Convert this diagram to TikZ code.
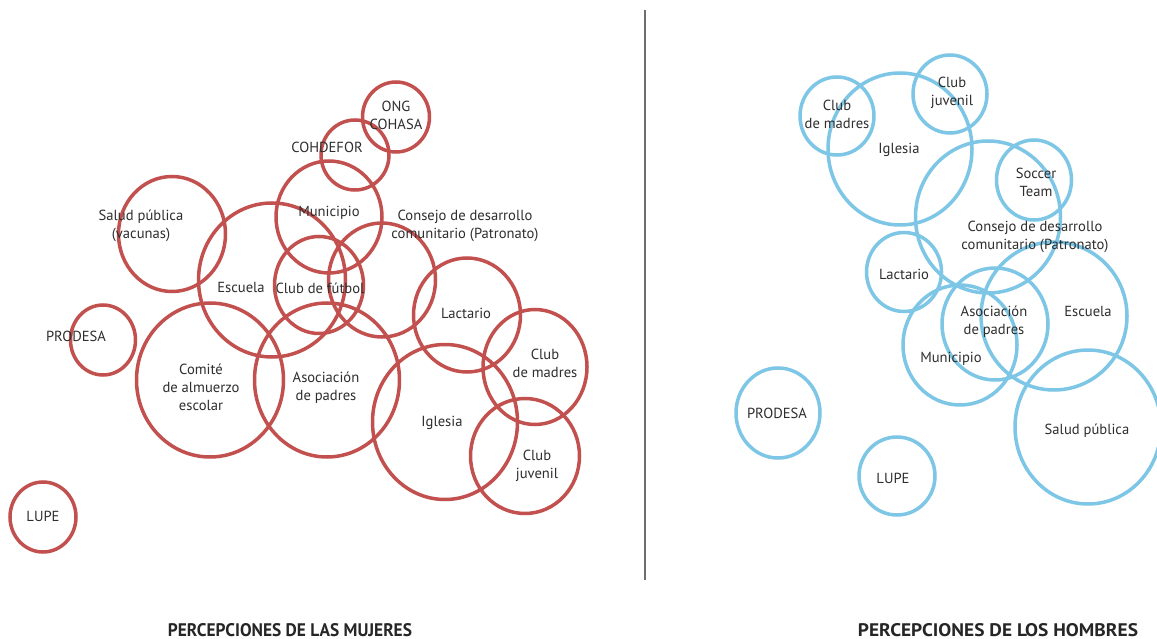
\documentclass[tikz,border=0pt]{standalone}
\usepackage{fontspec}
\setmainfont{PT Sans}
\usetikzlibrary{shapes.geometric}
\definecolor{redc}{HTML}{C2504E}
\definecolor{bluec}{HTML}{7DC6E5}
\definecolor{txtc}{HTML}{2E2E2E}
\definecolor{divc}{HTML}{6E6E6E}
\begin{document}
\begin{tikzpicture}[x=1pt,y=-1pt,
  rcirc/.style={draw=redc,line width=3.5pt,ellipse,inner sep=0pt},
  bcirc/.style={draw=bluec,line width=3.5pt,ellipse,inner sep=0pt},
  lbl/.style={text=txtc,font=\fontsize{14.6}{18}\selectfont,align=center,inner sep=0pt},
  ttl/.style={text=black!85,inner sep=0pt,anchor=base}]
\useasboundingbox (0,0) rectangle (1157,639);
\fill[white] (0,0) rectangle (1157,639);
% divider
\coordinate (dtop) at (645,10);
\coordinate (dbot) at (645,580);
\draw[divc,line width=1.6pt] (dtop) -- (dbot);

% ---------------- Women (red) ----------------
\node[rcirc,minimum width=67pt,minimum height=70pt] (wONG) at (396,117) {};
\node[rcirc,minimum width=68pt,minimum height=70pt] (wCOH) at (355,155) {};
\node[rcirc,minimum width=106pt,minimum height=112pt] (wMun) at (329,217) {};
\node[rcirc,minimum width=107pt,minimum height=115pt] (wSal) at (172,234) {};
\node[rcirc,minimum width=147pt,minimum height=154pt] (wEsc) at (272,280) {};
\node[rcirc,minimum width=89pt,minimum height=97pt] (wFut) at (319,285) {};
\node[rcirc,minimum width=107pt,minimum height=114pt] (wCon) at (382,280) {};
\node[rcirc,minimum width=107pt,minimum height=114pt] (wLac) at (467,315) {};
\node[rcirc,minimum width=65pt,minimum height=70pt] (wPRO) at (103,340) {};
\node[rcirc,minimum width=147pt,minimum height=154pt] (wCom) at (210,380) {};
\node[rcirc,minimum width=145pt,minimum height=154pt] (wAso) at (327,380) {};
\node[rcirc,minimum width=145pt,minimum height=155pt] (wIgl) at (445,422) {};
\node[rcirc,minimum width=104pt,minimum height=115pt] (wMad) at (535,367) {};
\node[rcirc,minimum width=109pt,minimum height=115pt] (wJuv) at (525,456) {};
\node[rcirc,minimum width=66pt,minimum height=70pt] (wLUP) at (43,517) {};

\node[lbl] (lwONG) at (396,115) {ONG\\COHASA};
\node[lbl] (lwCOH) at (327,147) {COHDEFOR};
\node[lbl] (lwMun) at (329,213) {Municipio};
\node[lbl] (lwSal) at (141,226) {Salud pública\\(vacunas)};
\node[lbl] (lwCon) at (465,226) {Consejo de desarrollo\\comunitario (Patronato)};
\node[lbl] (lwEsc) at (241,287) {Escuela};
\node[lbl] (lwFut) at (320,288) {Club de fútbol};
\node[lbl] (lwLac) at (466,313) {Lactario};
\node[lbl] (lwPRO) at (76,336) {PRODESA};
\node[lbl] (lwCom) at (201,387) {Comité\\de almuerzo\\escolar};
\node[lbl] (lwAso) at (326,388) {Asociación\\de padres};
\node[lbl] (lwIgl) at (442,423) {Iglesia};
\node[lbl] (lwMad) at (545,363) {Club\\de madres};
\node[lbl] (lwJuv) at (537,466) {Club\\juvenil};
\node[lbl] (lwLUP) at (43,516) {LUPE};

% ---------------- Men (blue) ----------------
\node[bcirc,minimum width=74pt,minimum height=78pt] (mMad) at (837,116) {};
\node[bcirc,minimum width=144pt,minimum height=152pt] (mIgl) at (900,149) {};
\node[bcirc,minimum width=74pt,minimum height=78pt] (mJuv) at (950,94) {};
\node[bcirc,minimum width=145pt,minimum height=152pt] (mCon) at (988,217) {};
\node[bcirc,minimum width=75pt,minimum height=80pt] (mSoc) at (1034,180) {};
\node[bcirc,minimum width=75pt,minimum height=79pt] (mLac) at (904,272) {};
\node[bcirc,minimum width=146pt,minimum height=148pt] (mEsc) at (1054,316) {};
\node[bcirc,minimum width=106pt,minimum height=112pt] (mAso) at (995,324) {};
\node[bcirc,minimum width=114pt,minimum height=120pt] (mMun) at (960,345) {};
\node[bcirc,minimum width=84pt,minimum height=90pt] (mPRO) at (778,413) {};
\node[bcirc,minimum width=76pt,minimum height=78pt] (mLUP) at (897,476) {};
\node[bcirc,minimum width=146pt,minimum height=154pt] (mSal) at (1088,427) {};

\node[lbl] (lmMad) at (837,114) {Club\\de madres};
\node[lbl] (lmJuv) at (952,93) {Club\\juvenil};
\node[lbl] (lmIgl) at (899,150) {Iglesia};
\node[lbl] (lmSoc) at (1036,182) {Soccer\\Team};
\node[lbl] (lmCon) at (1035,237) {Consejo de desarrollo\\comunitario (Patronato)};
\node[lbl] (lmLac) at (904,274) {Lactario};
\node[lbl] (lmEsc) at (1088,311) {Escuela};
\node[lbl] (lmAso) at (994,322) {Asociación\\de padres};
\node[lbl] (lmMun) at (951,359) {Municipio};
\node[lbl] (lmPRO) at (777,413) {PRODESA};
\node[lbl] (lmLUP) at (893,478) {LUPE};
\node[lbl] (lmSal) at (1087,431) {Salud pública};

% ---------------- Titles ----------------
\node[ttl] (tW) at (290,636) {\resizebox{244pt}{13pt}{\bfseries PERCEPCIONES DE LAS MUJERES}};
\node[ttl] (tM) at (998,636) {\resizebox{280pt}{13pt}{\bfseries PERCEPCIONES DE LOS HOMBRES}};
\end{tikzpicture}
\end{document}
